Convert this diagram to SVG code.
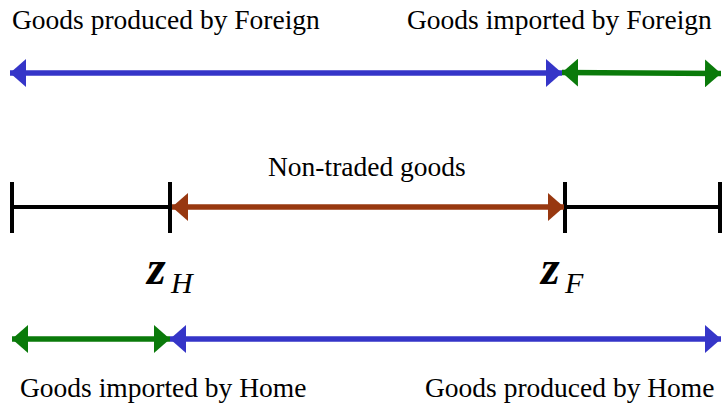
<svg xmlns="http://www.w3.org/2000/svg" width="724" height="414" viewBox="0 0 724 414">
<style>
.t{font-family:"Liberation Serif","Times New Roman",serif;font-size:27.5px;fill:#000}
.z{font-family:"Liberation Serif","Times New Roman",serif;font-style:italic;fill:#000}
.blue{stroke:#3535c8;stroke-width:5.5;fill:none}
.green{stroke:#0a7a0a;stroke-width:5.5;fill:none}
.brown{stroke:#983810;stroke-width:5.5;fill:none}
.blk{stroke:#000;stroke-width:4;fill:none}
</style>
<defs>
<marker id="hb" viewBox="0 0 16 28" refX="16" refY="14" markerWidth="16" markerHeight="28" markerUnits="userSpaceOnUse" orient="auto-start-reverse"><path d="M0,0 L16,14 L0,28 Z" fill="#3535c8"/></marker>
<marker id="hg" viewBox="0 0 16 28" refX="16" refY="14" markerWidth="16" markerHeight="28" markerUnits="userSpaceOnUse" orient="auto-start-reverse"><path d="M0,0 L16,14 L0,28 Z" fill="#0a7a0a"/></marker>
<marker id="hr" viewBox="0 0 16 28" refX="16" refY="14" markerWidth="16" markerHeight="28" markerUnits="userSpaceOnUse" orient="auto-start-reverse"><path d="M0,0 L16,14 L0,28 Z" fill="#983810"/></marker>
</defs>
<g id="labels">
<text class="t" x="12" y="29">Goods produced by Foreign</text>
<text class="t" x="407" y="29">Goods imported by Foreign</text>
<text class="t" x="268" y="176">Non-traded goods</text>
<text class="t" x="20" y="397">Goods imported by Home</text>
<text class="t" x="425" y="397">Goods produced by Home</text>
</g>
<g id="zH"><text class="z" x="147" y="284" font-size="48" font-weight="bold">z</text><text class="z" x="171" y="293" font-size="30">H</text></g>
<g id="zF"><text class="z" x="541" y="284" font-size="48" font-weight="bold">z</text><text class="z" x="565" y="293" font-size="30">F</text></g>
<g id="connectors">
<line class="blue" x1="10" y1="73" x2="562" y2="73" marker-start="url(#hb)" marker-end="url(#hb)"/>
<line class="green" x1="562" y1="72.5" x2="721" y2="73.5" marker-start="url(#hg)" marker-end="url(#hg)"/>
<line class="blk" x1="12" y1="207" x2="720" y2="207"/>
<line class="blk" x1="12" y1="182" x2="12" y2="233"/>
<line class="blk" x1="170" y1="182" x2="170" y2="233"/>
<line class="blk" x1="565" y1="182" x2="565" y2="233"/>
<line class="blk" x1="720" y1="182" x2="720" y2="233"/>
<line class="brown" x1="172" y1="207" x2="564" y2="207" marker-start="url(#hr)" marker-end="url(#hr)"/>
<line class="green" x1="12" y1="339" x2="170" y2="339" marker-start="url(#hg)" marker-end="url(#hg)"/>
<line class="blue" x1="170" y1="339" x2="721" y2="339" marker-start="url(#hb)" marker-end="url(#hb)"/>
</g>
</svg>
